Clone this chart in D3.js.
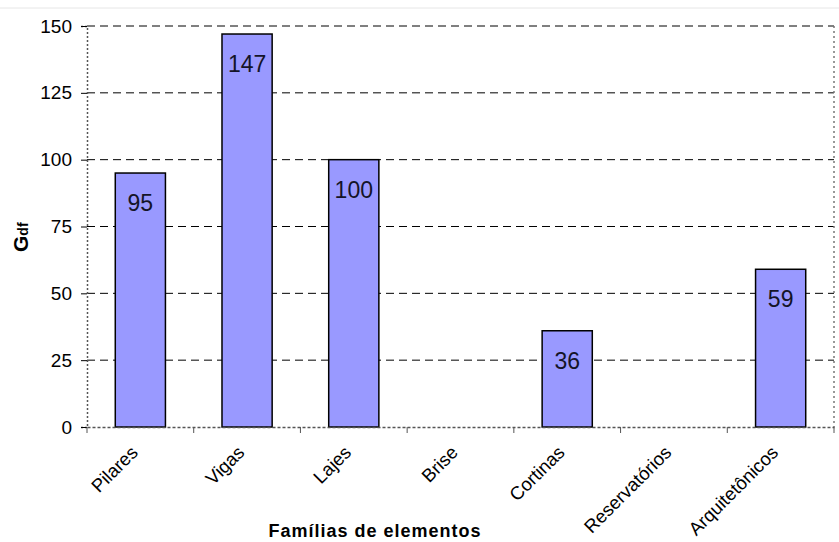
<!DOCTYPE html>
<html><head><meta charset="utf-8">
<script src="https://cdn.jsdelivr.net/npm/d3@7"></script>
<style>body{margin:0;background:#fff}svg{display:block}text{font-family:"Liberation Sans",Arial,sans-serif}</style>
</head><body>
<svg id="c" width="839" height="542"></svg>
<script>
const categories = ["Pilares","Vigas","Lajes","Brise","Cortinas","Reservatórios","Arquitetônicos"];
const values = [95,147,100,0,36,0,59];
const yTicks = [0,25,50,75,100,125,150];

const svg = d3.select("#c");
const m = {l:87, r:834, t:26, b:427};
const x = d3.scaleBand().domain(categories).range([m.l, m.r]).paddingInner(0.53).paddingOuter(0.265);
const xb = d3.scaleBand().domain(categories).range([m.l, m.r]);
const y = d3.scaleLinear().domain([0,150]).range([m.b, m.t]);
const data = values.map((v,i)=>({c:categories[i],v})).filter(d=>d.v>0);

// top faint line
svg.append("line").attr("x1",0).attr("x2",839).attr("y1",8).attr("y2",8).attr("stroke","#e6e6e6");

// gridlines
svg.append("g").selectAll("line").data(yTicks.filter(d=>d>0)).join("line")
  .attr("x1",m.l).attr("x2",m.r).attr("y1",d=>y(d)).attr("y2",d=>y(d))
  .attr("stroke","#000").attr("stroke-dasharray","8,5").attr("stroke-width",1);

// right border
svg.append("line").attr("x1",m.r).attr("x2",m.r).attr("y1",m.t).attr("y2",m.b)
  .attr("stroke","#777").attr("stroke-dasharray","2,3").attr("stroke-width",1.5);

// bars
svg.append("g").selectAll("rect").data(data).join("rect")
  .attr("x",d=>x(d.c)).attr("width",x.bandwidth())
  .attr("y",d=>y(d.v)).attr("height",d=>y(0)-y(d.v))
  .attr("fill","#9999ff").attr("stroke","#000").attr("stroke-width",1.5);

// labels
svg.append("g").selectAll("text").data(data).join("text")
  .attr("x",d=>x(d.c)+x.bandwidth()/2).attr("y",d=>y(d.v)+38)
  .attr("text-anchor","middle").attr("font-size",23).attr("fill","#141428").text(d=>d.v);

// y axis
const ya = svg.append("g").attr("transform",`translate(${m.l},0)`)
  .call(d3.axisLeft(y).tickValues(yTicks).tickSize(6).tickPadding(9));
ya.select(".domain").attr("stroke","#555").attr("stroke-dasharray","2,2").attr("stroke-width",1.5);
ya.selectAll(".tick line").attr("stroke","#000");
ya.selectAll(".tick text").attr("font-size",19).attr("fill","#000").attr("font-family","Liberation Sans, Arial, sans-serif");

// x axis
const xa = svg.append("g").attr("transform",`translate(0,${m.b})`)
  .call(d3.axisBottom(xb).tickSize(0).tickFormat(""));
xa.select(".domain").attr("stroke","#555").attr("stroke-dasharray","3,2").attr("stroke-width",1.5);
const bounds = categories.map(c=>xb(c)).concat([m.r]);
svg.append("g").selectAll("line").data(bounds).join("line")
  .attr("x1",d=>d).attr("x2",d=>d).attr("y1",m.b).attr("y2",m.b+6).attr("stroke","#555");

svg.append("g").selectAll("text").data(categories).join("text")
  .attr("transform",d=>`translate(${xb(d)+xb.bandwidth()/2-6},${m.b+22}) rotate(-45)`)
  .attr("text-anchor","end").attr("dy","0.35em").attr("font-size",18.5).attr("fill","#000").text(d=>d);

// axis titles
svg.append("text").attr("x",375).attr("y",537).attr("text-anchor","middle")
  .attr("font-size",18).attr("font-weight","bold").attr("letter-spacing","1").text("Famílias de elementos");
const yt = svg.append("text").attr("transform","translate(28,252) rotate(-90)").attr("text-anchor","start")
  .attr("font-weight","bold").attr("font-size",21);
yt.append("tspan").text("G");
yt.append("tspan").attr("font-size",14).text("df");
</script>
</body></html>
